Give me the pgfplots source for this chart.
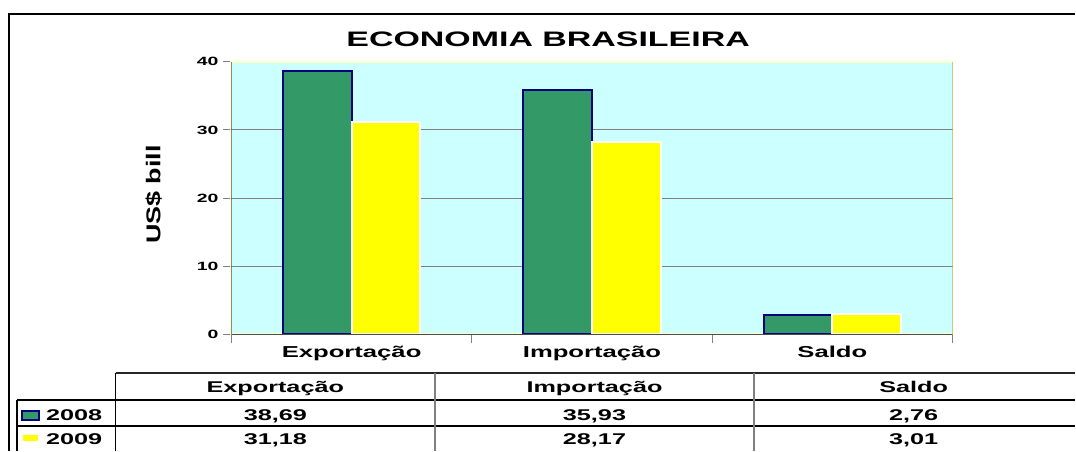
\documentclass[border=0pt]{standalone}
\usepackage{pgfplots}
\pgfplotsset{compat=1.18}
\usepackage{fontspec}
\setmainfont{Liberation Sans}
\newfontfamily\fT{Liberation Sans}[FakeStretch=1.62]
\newfontfamily\fY{Liberation Sans}[FakeStretch=1.35]
\definecolor{green08}{HTML}{339966}
\definecolor{navyb}{HTML}{000080}
\definecolor{yel09}{HTML}{FFFF00}
\definecolor{cyanbg}{HTML}{CCFFFF}
\definecolor{paleyel}{HTML}{FFFFCC}
\definecolor{gridgray}{HTML}{808080}
\begin{document}
\begin{tikzpicture}
\begin{scope}[x=0.75pt,y=-0.75pt]
\path[use as bounding box] (0,0) rectangle (1076,450);
% outer frame
\draw[black, line width=1.5pt] (9,452) -- (9,14) -- (1078,14);
% title
\node[anchor=base, inner sep=0pt, font=\fT\bfseries\fontsize{15.75}{18}\selectfont] at (549.5,47) {ECONOMIA BRASILEIRA};
% y label
\node[rotate=90, inner sep=0pt, font=\fY\bfseries\fontsize{15}{18}\selectfont] at (154,195) {US\$ bill};
\end{scope}

\begin{axis}[
  at={(174pt,-251.25pt)}, anchor=south west,
  scale only axis, width=542.25pt, height=204.75pt,
  xmin=-0.5, xmax=2.5, ymin=0, ymax=40,
  xtick={-0.5,0.5,1.5,2.5}, x tick label as interval,
  xticklabels={Exportação,Importação,Saldo},
  ytick={0,10,20,30,40},
  extra y ticks={10,20,30}, extra y tick labels={},
  extra y tick style={ymajorgrids=true, major tick length=0pt},
  grid style={draw=gridgray, line width=0.75pt},
  axis background/.style={fill=cyanbg},
  axis line style={draw=paleyel, line width=1.5pt},
  tick align=outside, xtick pos=bottom, ytick pos=left,
  major tick length=6.5pt,
  major tick style={draw=gridgray, line width=0.75pt},
  /pgf/number format/assume math mode=true,
  yticklabel style={font=\fT\bfseries\fontsize{9}{10}\selectfont, inner sep=0pt, xshift=-3pt},
  xticklabel style={font=\fT\bfseries\fontsize{11.9}{14}\selectfont, inner sep=0pt, yshift=-2pt},
]
\addplot[ybar, bar width=0.285, bar shift=-0.1425, fill=green08, draw=navyb, line width=1.5pt]
  coordinates {(0,38.69) (1,35.93) (2,2.76)};
\addplot[ybar, bar width=0.285, bar shift=0.1425, fill=yel09, draw=white, line width=1.5pt]
  coordinates {(0,31.18) (1,28.17) (2,3.01)};
\draw[gridgray!60!black, line width=0.75pt] (axis cs:-0.5,40) -- (axis cs:-0.5,0) -- (axis cs:2.5,0);
\draw[gridgray!70, line width=0.5pt] (axis cs:2.5,0) -- (axis cs:2.5,40);
\end{axis}

\begin{scope}[x=0.75pt,y=-0.75pt]
% table lines
\draw[black!85, line width=1.1pt] (116,374) -- (1078,374);
\draw[black, line width=1.1pt] (17,401) -- (1078,401);
\draw[black, line width=1.1pt] (17,427) -- (1078,427);
\draw[black, line width=1.1pt] (116,374) -- (116,452);
\draw[black, line width=1.1pt] (17,401) -- (17,452);
\draw[gridgray, line width=1.3pt] (436,374) -- (436,452);
\draw[gridgray, line width=1.3pt] (756,374) -- (756,452);
% legend keys
\filldraw[fill=green08, draw=navyb, line width=1.5pt] (22,412) rectangle (39,421);
\filldraw[fill=yel09, draw=white, line width=1.5pt] (22,435) rectangle (39,443);
% table text
\begin{scope}[every node/.style={anchor=base, inner sep=0pt, font=\fT\bfseries\fontsize{11.7}{14}\selectfont}]
\node at (276,393) {Exportação};
\node at (596,393) {Importação};
\node at (916,393) {Saldo};
\node at (276,421.5) {38,69};
\node at (596,421.5) {35,93};
\node at (916,421.5) {2,76};
\node at (276,446) {31,18};
\node at (596,446) {28,17};
\node at (916,446) {3,01};
\node[anchor=base west] at (46,421.5) {2008};
\node[anchor=base west] at (46,446) {2009};
\end{scope}
\end{scope}
\end{tikzpicture}
\end{document}
